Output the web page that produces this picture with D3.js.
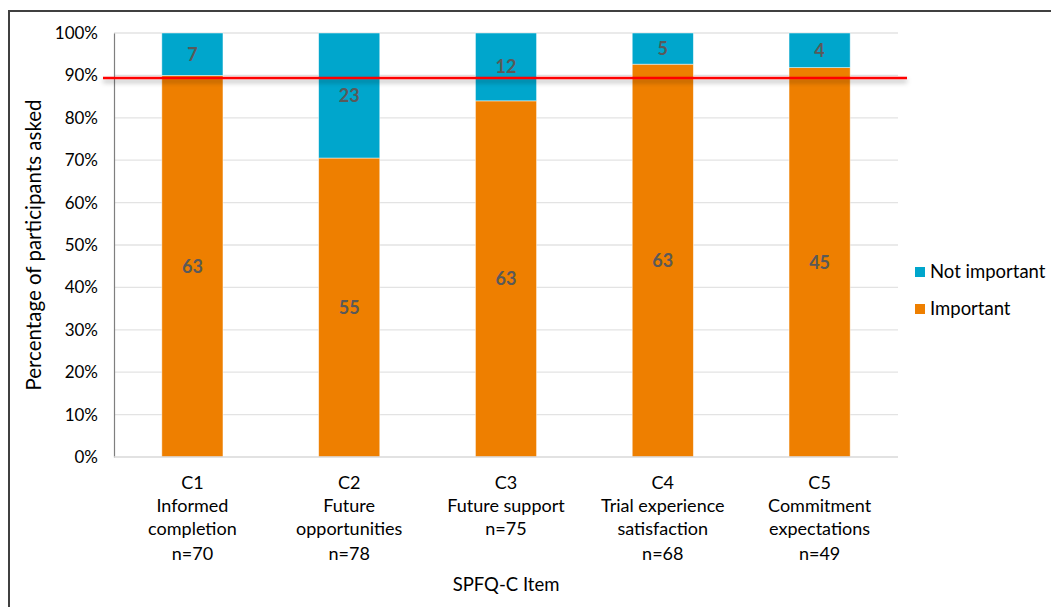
<!DOCTYPE html>
<html>
<head>
<meta charset="utf-8">
<script src="https://cdn.jsdelivr.net/npm/d3@7"></script>
<style>
  html, body { margin: 0; padding: 0; background: #fff; }
  svg { display: block; font-family: Lato, "Open Sans", sans-serif; }
</style>
</head>
<body>
<svg id="chart" width="1051" height="607"></svg>
<script>
// SPFQ-C items with their label lines
const items = ["C1", "C2", "C3", "C4", "C5"];
const itemLabels = [
  ["C1", "Informed", "completion", "n=70"],
  ["C2", "Future", "opportunities", "n=78"],
  ["C3", "Future support", "n=75"],
  ["C4", "Trial experience", "satisfaction", "n=68"],
  ["C5", "Commitment", "expectations", "n=49"]
];
// participant counts per response
const important    = [63, 55, 63, 63, 45];
const notImportant = [7, 23, 12, 5, 4];
const seriesNames  = ["Important", "Not important"];
const yTicks = [0, 10, 20, 30, 40, 50, 60, 70, 80, 90, 100];
const thresholdPct = 89.4;

const colors = { "Important": "#EE7F00", "Not important": "#00A6CC" };

const svg = d3.select("#chart");
const W = 1051, H = 607;
const plot = { left: 114, right: 898, top: 33, bottom: 457 };

// outer frame
svg.append("path")
  .attr("d", `M9,${H} V11 H${W}`)
  .attr("fill", "none").attr("stroke", "#404040").attr("stroke-width", 2);

// soft shadow under the threshold line (user-space region, since the line has no height)
const defs = svg.append("defs");
const f = defs.append("filter").attr("id", "lineShadow")
  .attr("filterUnits", "userSpaceOnUse")
  .attr("x", 0).attr("y", 0).attr("width", W).attr("height", H);
f.append("feDropShadow").attr("dx", 0).attr("dy", 3).attr("stdDeviation", 2.5)
  .attr("flood-color", "#000").attr("flood-opacity", 0.35);

const x = d3.scaleBand().domain(items).range([plot.left, plot.right]).paddingInner(0.61).paddingOuter(0.305);
const y = d3.scaleLinear().domain([0, 100]).range([plot.bottom, plot.top]);

// gridlines
svg.append("g").selectAll("line").data(yTicks.filter(t => t > 0)).join("line")
  .attr("x1", plot.left).attr("x2", plot.right)
  .attr("y1", d => y(d)).attr("y2", d => y(d))
  .attr("stroke", "#e3e3e3").attr("stroke-width", 1.3);

// stacked percentage data
const rows = items.map((k, i) => {
  const n = important[i] + notImportant[i];
  return { item: k, "Important": important[i] / n * 100, "Not important": notImportant[i] / n * 100,
           counts: { "Important": important[i], "Not important": notImportant[i] } };
});
const stack = d3.stack().keys(seriesNames)(rows);

const layers = svg.append("g").selectAll("g").data(stack).join("g")
  .attr("fill", d => colors[d.key]);
layers.selectAll("rect").data(d => d.map(p => ({ p, key: d.key }))).join("rect")
  .attr("x", d => x(d.p.data.item))
  .attr("width", x.bandwidth())
  .attr("y", d => y(d.p[1]))
  .attr("height", d => y(d.p[0]) - y(d.p[1]))
  .attr("stroke", "rgba(255,255,255,0.6)").attr("stroke-width", 0.8);

// value labels
const lblG = svg.append("g");
stack.forEach(layer => {
  layer.forEach(p => {
    lblG.append("text")
      .attr("x", x(p.data.item) + x.bandwidth() / 2)
      .attr("y", y((p[0] + p[1]) / 2))
      .attr("dy", "0.36em")
      .attr("text-anchor", "middle")
      .attr("font-size", 18).attr("font-weight", 700).attr("fill", "#595959")
      .text(p.data.counts[layer.key]);
  });
});

// axes
const yAxis = d3.axisLeft(y).tickValues(yTicks).tickFormat(d => d + "%").tickSize(0).tickPadding(16);
const gy = svg.append("g").attr("transform", `translate(${plot.left},0)`).call(yAxis);
gy.select(".domain").attr("stroke", "#7f7f7f").attr("stroke-width", 1.2);
gy.selectAll("text").attr("font-size", 17).attr("fill", "#000").attr("font-family", "Lato, sans-serif");

svg.append("line").attr("x1", plot.left).attr("x2", plot.right)
  .attr("y1", plot.bottom).attr("y2", plot.bottom)
  .attr("stroke", "#d9d9d9").attr("stroke-width", 1.3);

// category labels
const cat = svg.append("g");
items.forEach((k, i) => {
  const t = cat.append("text")
    .attr("x", x(k) + x.bandwidth() / 2).attr("y", 489)
    .attr("text-anchor", "middle").attr("font-size", 18).attr("fill", "#000");
  itemLabels[i].forEach((line, j) => {
    t.append("tspan").attr("x", x(k) + x.bandwidth() / 2)
      .attr("dy", j === 0 ? 0 : (j === itemLabels[i].length - 1 && itemLabels[i].length === 4 ? 25 : 23))
      .text(line);
  });
});

// threshold line
svg.append("line")
  .attr("x1", 103).attr("x2", 907)
  .attr("y1", y(thresholdPct)).attr("y2", y(thresholdPct))
  .attr("stroke", "#FF0000").attr("stroke-width", 2.5)
  .attr("filter", "url(#lineShadow)");

// axis titles
svg.append("text")
  .attr("transform", `translate(41,${(plot.top + plot.bottom) / 2}) rotate(-90)`)
  .attr("text-anchor", "middle").attr("font-size", 20.5).attr("fill", "#000")
  .text("Percentage of participants asked");
svg.append("text")
  .attr("x", (plot.left + plot.right) / 2).attr("y", 591)
  .attr("text-anchor", "middle").attr("font-size", 18.5).attr("fill", "#000")
  .text("SPFQ-C Item");

// legend
const legendItems = ["Not important", "Important"];
const lg = svg.append("g");
legendItems.forEach((name, i) => {
  const ly = 272 + i * 37;
  lg.append("rect").attr("x", 915).attr("y", ly - 5).attr("width", 10).attr("height", 10)
    .attr("fill", colors[name]);
  lg.append("text").attr("x", 930).attr("y", ly).attr("dy", "0.35em")
    .attr("font-size", 18.5).attr("fill", "#000").text(name);
});
</script>
</body>
</html>
